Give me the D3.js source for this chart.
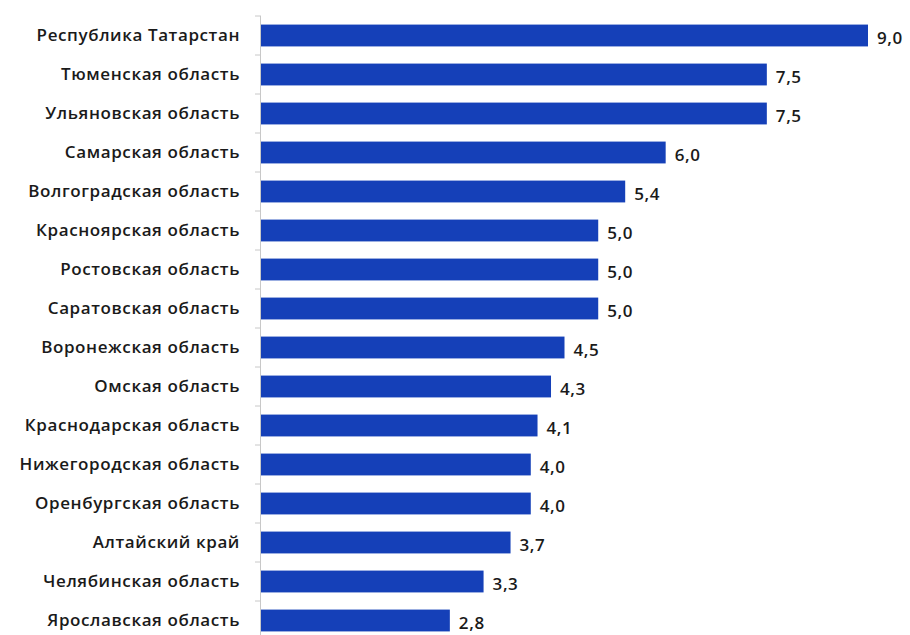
<!DOCTYPE html>
<html>
<head>
<meta charset="utf-8">
<script src="https://cdn.jsdelivr.net/npm/d3@7"></script>
<style>
  body { margin: 0; background: #fff; }
  .cat-label { font-family: "Open Sans", sans-serif; font-size: 17px; font-weight: 600; letter-spacing: 0.6px; fill: #1a1a1a; }
  .val-label { font-family: "Open Sans", sans-serif; font-size: 17px; font-weight: 600; letter-spacing: 0.6px; fill: #1a1a1a; }
</style>
</head>
<body>
<div id="chart"></div>
<script>
// regions and values
var regions = [
  "Республика Татарстан",
  "Тюменская область",
  "Ульяновская область",
  "Самарская область",
  "Волгоградская область",
  "Красноярская область",
  "Ростовская область",
  "Саратовская область",
  "Воронежская область",
  "Омская область",
  "Краснодарская область",
  "Нижегородская область",
  "Оренбургская область",
  "Алтайский край",
  "Челябинская область",
  "Ярославская область"
];
var values = [9.0, 7.5, 7.5, 6.0, 5.4, 5.0, 5.0, 5.0, 4.5, 4.3, 4.1, 4.0, 4.0, 3.7, 3.3, 2.8];

var svgWidth = 910;
var svgHeight = 635;

var svg = d3.select("#chart")
  .append("svg")
  .attr("width", svgWidth)
  .attr("height", svgHeight);

var x = d3.scaleLinear()
  .domain([0, 9])
  .range([261, 868]);

var y = d3.scaleBand()
  .domain(regions)
  .range([16, 16 + regions.length * 39])
  .paddingInner(0.44)
  .paddingOuter(0.22);

// vertical axis line with small ticks between the bars
svg.append("line")
  .attr("x1", 260.5).attr("x2", 260.5)
  .attr("y1", 16).attr("y2", svgHeight)
  .attr("stroke", "#c8c8c8")
  .attr("stroke-width", 1);

var step = y.step();
svg.selectAll(".tick")
  .data(d3.range(regions.length + 1))
  .enter()
  .append("line")
  .attr("x1", 255).attr("x2", 261)
  .attr("y1", i => 16 + i * step)
  .attr("y2", i => 16 + i * step)
  .attr("stroke", "#c8c8c8");

var rows = regions.map((r, i) => ({ name: r, value: values[i] }));

svg.selectAll(".bar")
  .data(rows)
  .enter()
  .append("rect")
  .attr("x", x(0))
  .attr("y", d => y(d.name))
  .attr("width", d => x(d.value) - x(0))
  .attr("height", y.bandwidth())
  .attr("fill", "#1540b8");

svg.selectAll(".cat-label")
  .data(rows)
  .enter()
  .append("text")
  .attr("class", "cat-label")
  .attr("x", 240)
  .attr("y", d => y(d.name) + y.bandwidth() / 2 + 1)
  .attr("text-anchor", "end")
  .attr("dominant-baseline", "middle")
  .text(d => d.name);

svg.selectAll(".val-label")
  .data(rows)
  .enter()
  .append("text")
  .attr("class", "val-label")
  .attr("x", d => x(d.value) + 9)
  .attr("y", d => y(d.name) + y.bandwidth() / 2 + 4)
  .attr("dominant-baseline", "middle")
  .text(d => d.value.toFixed(1).replace(".", ","));
</script>
</body>
</html>
